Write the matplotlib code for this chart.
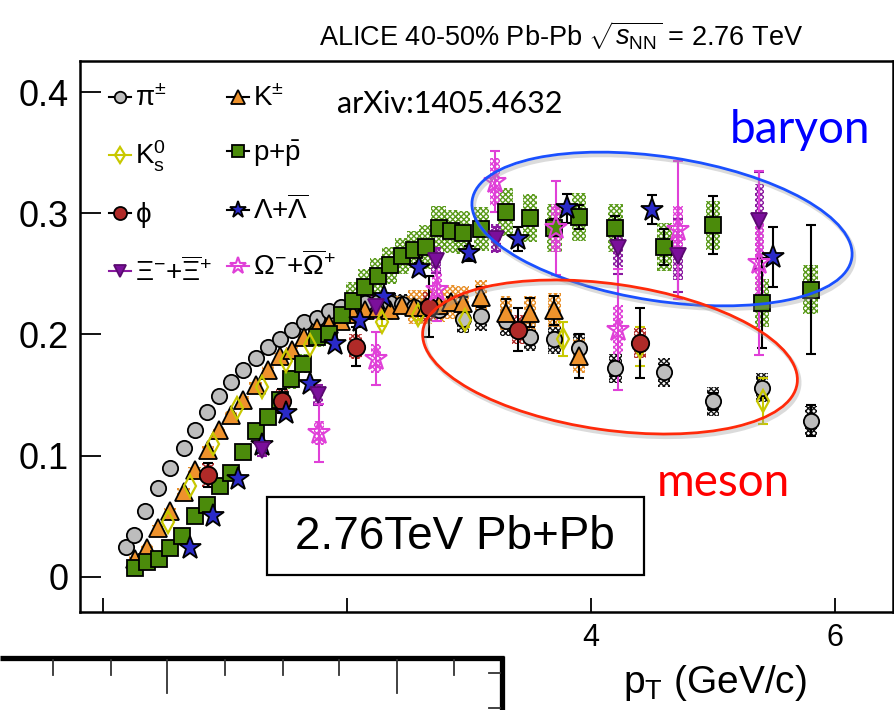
import numpy as np
import matplotlib.pyplot as plt
from matplotlib.patches import Ellipse, Rectangle
from matplotlib.lines import Line2D

# ---- data ----
pi_pt = [0.19, 0.25, 0.34, 0.45, 0.55, 0.66, 0.75, 0.85, 0.95, 1.05, 1.15, 1.25, 1.35,
         1.45, 1.55, 1.65, 1.75, 1.85, 1.95, 2.05, 2.15, 2.25, 2.35, 2.45, 2.55, 2.65,
         2.75, 2.95, 3.10, 3.30, 3.50, 3.70, 3.90, 4.20, 4.60, 5.00, 5.40, 5.80]
pi_v2 = [0.025, 0.035, 0.054, 0.073, 0.090, 0.106, 0.121, 0.136, 0.149, 0.161, 0.171,
         0.181, 0.190, 0.196, 0.204, 0.210, 0.214, 0.219, 0.223, 0.225, 0.226, 0.227,
         0.226, 0.225, 0.223, 0.222, 0.220, 0.213, 0.215, 0.211, 0.198, 0.196, 0.189,
         0.172, 0.169, 0.145, 0.156, 0.129]
pi_err = [0] * 27 + [0.003, 0.003, 0.003, 0.004, 0.004, 0.005, 0.006, 0.006, 0.007, 0.008, 0.0125]
pi_sys = [0.003] * 19 + [0.008] * 8 + [0.012] * 11

k_pt = [0.26, 0.36, 0.45, 0.55, 0.66, 0.75, 0.86, 0.95, 1.05, 1.15, 1.25, 1.35, 1.45,
        1.55, 1.65, 1.75, 1.85, 1.95, 2.05, 2.15, 2.25, 2.35, 2.45, 2.55, 2.65, 2.75,
        2.85, 2.95, 3.10, 3.30, 3.50, 3.70, 3.90]
k_v2 = [0.015, 0.024, 0.040, 0.054, 0.070, 0.088, 0.105, 0.121, 0.134, 0.146, 0.158,
        0.171, 0.182, 0.187, 0.198, 0.205, 0.209, 0.211, 0.217, 0.220, 0.222, 0.220,
        0.224, 0.223, 0.223, 0.224, 0.227, 0.226, 0.231, 0.218, 0.218, 0.220, 0.182]
k_err = [0] * 26 + [0.004, 0.005, 0.008, 0.011, 0.012, 0.012, 0.018]
k_sys = [0.003] * 18 + [0.008] * 5 + [0.014] * 10

k0_pt = [0.53, 0.71, 0.90, 1.10, 1.30, 1.50, 1.70, 2.29, 2.58, 2.97, 3.77, 4.40, 5.41]
k0_v2 = [0.045, 0.075, 0.110, 0.139, 0.157, 0.178, 0.191, 0.210, 0.216, 0.212, 0.196, 0.190, 0.145]
k0_err = [0, 0, 0, 0, 0, 0, 0, 0.003, 0.004, 0.006, 0.014, 0.016, 0.019]
k0_sys = [0] * 13

p_pt = [0.26, 0.36, 0.46, 0.55, 0.65, 0.75, 0.85, 0.96, 1.05, 1.15, 1.25, 1.35, 1.45,
        1.54, 1.64, 1.75, 1.85, 1.96, 2.05, 2.15, 2.25, 2.35, 2.45, 2.55, 2.65, 2.75,
        2.85, 2.95, 3.10, 3.30, 3.50, 3.70, 3.90, 4.20, 4.60, 5.00, 5.40, 5.80]
p_v2 = [0.007, 0.012, 0.015, 0.024, 0.034, 0.050, 0.059, 0.075, 0.086, 0.103, 0.120,
        0.132, 0.146, 0.163, 0.176, 0.198, 0.200, 0.216, 0.228, 0.239, 0.248, 0.257,
        0.265, 0.270, 0.272, 0.288, 0.285, 0.284, 0.287, 0.301, 0.296, 0.288, 0.297,
        0.288, 0.272, 0.290, 0.226, 0.237]
p_err = [0] * 28 + [0.004, 0.005, 0.006, 0.007, 0.010, 0.010, 0.015, 0.024, 0.037, 0.053]
p_sys = [0.003] * 13 + [0.008] * 5 + [0.015] * 6 + [0.018] * 5 + [0.020] * 9

l_pt = [0.71, 0.90, 1.11, 1.30, 1.50, 1.70, 1.90, 2.11, 2.30, 2.59, 3.00, 3.40, 3.80, 4.50, 5.49]
l_v2 = [0.024, 0.050, 0.081, 0.109, 0.135, 0.159, 0.192, 0.211, 0.231, 0.255, 0.267,
        0.279, 0.304, 0.303, 0.264]
l_err = [0, 0, 0, 0, 0, 0, 0.002, 0.003, 0.003, 0.004, 0.006, 0.010, 0.012, 0.012, 0.025]
l_sys = [0] * 15

phi_pt = [0.86, 1.47, 2.07, 2.67, 3.40, 4.40]
phi_v2 = [0.084, 0.145, 0.190, 0.223, 0.204, 0.193]
phi_err = [0.010, 0.010, 0.016, 0.025, 0.018, 0.029]
phi_sys = [0.010, 0.010, 0.010, 0.012, 0.012, 0.012]

xi_pt = [1.30, 1.76, 2.24, 2.73, 3.22, 4.22, 4.71, 5.38]
xi_v2 = [0.105, 0.150, 0.223, 0.261, 0.279, 0.271, 0.265, 0.294]
xi_err = [0.005, 0.008, 0.008, 0.010, 0.010, 0.021, 0.030, 0.040]
xi_sys = [0.006, 0.008, 0.010, 0.010, 0.012, 0.015, 0.020, 0.030]

om_pt = [1.77, 2.24, 2.74, 3.21, 3.71, 4.22, 4.71, 5.38]
om_v2 = [0.119, 0.180, 0.237, 0.326, 0.288, 0.204, 0.286, 0.259]
om_err = [0.024, 0.022, 0.026, 0.025, 0.039, 0.050, 0.057, 0.076]
om_sys = [0.010, 0.012, 0.015, 0.020, 0.020, 0.020, 0.020, 0.040]

y_ticks = [0, 0.1, 0.2, 0.3, 0.4]
y_ticklabels = ['0', '0.1', '0.2', '0.3', '0.4']
x_ticks = [0, 2, 4, 6]
x_ticklabels = ['', '', '4', '6']

plt.rcParams['font.family'] = ['Liberation Sans', 'DejaVu Sans']
plt.rcParams['mathtext.fontset'] = 'custom'
plt.rcParams['mathtext.rm'] = 'Liberation Sans'
plt.rcParams['mathtext.it'] = 'Liberation Sans:italic'
plt.rcParams['mathtext.bf'] = 'Liberation Sans:bold'
plt.rcParams['hatch.linewidth'] = 1.0

fig = plt.figure(figsize=(8.95, 7.1), dpi=100)
ax = fig.add_axes([80 / 895, 1 - 612 / 710, 813 / 895, 551 / 710])
ax.set_xlim(-0.189, 6.475)
ax.set_ylim(-0.0289, 0.4256)

handles = {}


def draw_species(key, pt, v2, err, sys, sys_w, marker, ms, mfc, mec, ecol, hcol, label, mew=1.3):
    pt = np.array(pt)
    v2 = np.array(v2)
    err = np.array(err)
    sys = np.array(sys)
    m = sys > 0
    if m.any():
        ax.bar(pt[m], 2 * sys[m], bottom=v2[m] - sys[m], width=sys_w, color='none',
               edgecolor=hcol, hatch='xxxxxx', linewidth=0, zorder=1)
    e = err > 0
    if e.any():
        ax.errorbar(pt[e], v2[e], yerr=err[e], fmt='none', ecolor=ecol, elinewidth=1.5,
                    capsize=3.5, capthick=1.5, zorder=2)
    ax.plot(pt, v2, linestyle='none', marker=marker, ms=ms, mfc=mfc, mec=mec, mew=mew, zorder=3)
    handles[key] = Line2D([], [], color=ecol, lw=1.5, marker=marker, ms=ms * 0.75,
                          mfc=mfc, mec=mec, mew=mew, label=label)


draw_species('pi', pi_pt, pi_v2, pi_err, pi_sys, 0.10, 'o', 11, '#bdbdbd', 'black', 'black', '#111111',
             r'$\mathrm{\pi}^{\pm}$')
draw_species('k', k_pt, k_v2, k_err, k_sys, 0.10, '^', 12.5, '#ee922c', 'black', 'black', '#e8902a',
             r'$\mathrm{K}^{\pm}$')
draw_species('p', p_pt, p_v2, p_err, p_sys, 0.12, 's', 12, '#4b8b0b', 'black', 'black', '#5a9a1a',
             r'$\mathrm{p{+}\bar{p}}$')
draw_species('k0', k0_pt, k0_v2, k0_err, k0_sys, 0.10, 'd', 11, 'none', '#c8c800', '#c8c800', '#c8c800',
             r'$\mathrm{K^0_s}$', mew=1.6)
draw_species('phi', phi_pt, phi_v2, phi_err, phi_sys, 0.10, 'o', 12.5, '#b02a28', 'black', 'black', '#b02a28',
             r'$\mathrm{\phi}$')
draw_species('lam', l_pt, l_v2, l_err, l_sys, 0.10, '*', 17, '#2a2ac8', 'black', 'black', '#2a2ac8',
             r'$\mathrm{\Lambda{+}\overline{\Lambda}}$')
draw_species('xi', xi_pt, xi_v2, xi_err, xi_sys, 0.08, 'v', 11.5, '#7b0f9b', '#5a0a70', '#8a1aa0', '#8a1aa0',
             r'$\mathrm{\Xi^{-}{+}\overline{\Xi}^{+}}$')
draw_species('om', om_pt, om_v2, om_err, om_sys, 0.08, '*', 17, 'none', '#e040d8', '#e040d8', '#e040d8',
             r'$\mathrm{\Omega^{-}{+}\overline{\Omega}^{+}}$', mew=1.5)

order = ['pi', 'k0', 'phi', 'xi', 'k', 'p', 'lam', 'om']
ax.legend(handles=[handles[k] for k in order], ncol=2, loc='upper left',
          bbox_to_anchor=(0.022, 0.975), frameon=False, fontsize=20,
          handlelength=0.8, handletextpad=0.15, columnspacing=0.5, labelspacing=0.95,
          borderaxespad=0)

ax.set_yticks(y_ticks)
ax.set_yticklabels(y_ticklabels)
ax.set_xticks(x_ticks)
ax.set_xticklabels(x_ticklabels)
ax.tick_params(axis='y', direction='in', length=15, width=1.3, labelsize=26, pad=8)
ax.tick_params(axis='x', direction='in', length=10, width=1.3, labelsize=22, pad=8)
for s in ax.spines.values():
    s.set_linewidth(1.8)

# ---- overlay in pixel coordinates for annotations ----
ov = fig.add_axes([0, 0, 1, 1], facecolor='none')
ov.set_xlim(0, 895)
ov.set_ylim(710, 0)
ov.axis('off')

ov.text(561, 36, r'ALICE 40-50% Pb-Pb $\sqrt{s_{\rm NN}}$ = 2.76 TeV', ha='center', va='center',
        fontsize=19.5)
ov.text(450, 104, 'arXiv:1405.4632', ha='center', va='center', fontsize=22, family='Lato')
ov.text(800, 130, 'baryon', ha='center', va='center', fontsize=33, family='Lato', color='#0000ff')
ov.text(723, 483, 'meson', ha='center', va='center', fontsize=33, family='Lato', color='#ff0000')

ov.add_patch(Ellipse((664, 232), 384, 144, angle=8.7, fill=False, ec='#999999', lw=3, alpha=0.35))
ov.add_patch(Ellipse((662, 229), 384, 144, angle=8.7, fill=False, ec='#1a50ff', lw=2))
ov.add_patch(Ellipse((612, 360), 378, 146, angle=8.1, fill=False, ec='#999999', lw=3, alpha=0.35))
ov.add_patch(Ellipse((610, 357), 378, 146, angle=8.1, fill=False, ec='#ff2a0a', lw=2))

ov.add_patch(Rectangle((267, 497), 377, 78, fill=True, fc='white', ec='black', lw=1.6))
ov.text(455, 537, '2.76TeV Pb+Pb', ha='center', va='center', fontsize=33)

ov.text(715, 683, r'p$_\mathrm{T}$ (GeV/c)', ha='center', va='center', fontsize=28)

# fragment of another axis in the lower-left corner
ov.plot([0, 504], [658, 658], color='black', lw=3.8, solid_capstyle='butt')
ov.plot([502, 502], [656, 710], color='black', lw=3.8, solid_capstyle='butt')
for tx in [53, 111, 225, 283, 339, 454]:
    ov.plot([tx, tx], [660, 675], color='#333333', lw=1.3)
for tx in [167, 397]:
    ov.plot([tx, tx], [660, 693], color='#333333', lw=1.3)
for ty in [673, 708]:
    ov.plot([489, 500], [ty, ty], color='#333333', lw=1.3)

fig.savefig('out.png', dpi=100, facecolor='white')
